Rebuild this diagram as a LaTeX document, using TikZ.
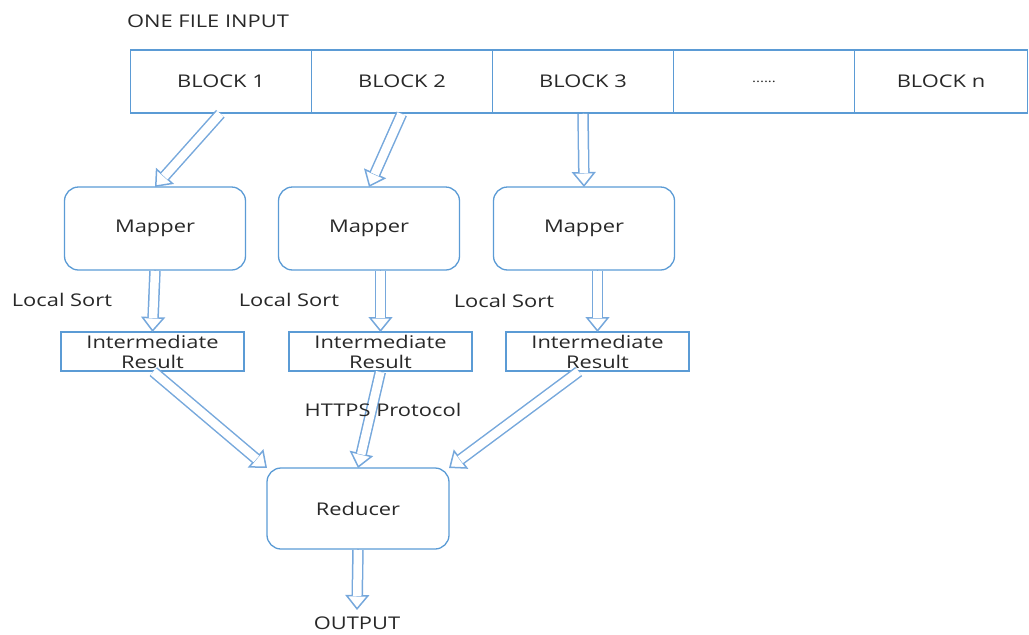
\documentclass[tikz,border=0pt]{standalone}
\usepackage{fontspec}
\setmainfont{Open Sans}[FakeStretch=1.25]
\usetikzlibrary{positioning}
\usetikzlibrary{arrows.meta}
\definecolor{boxblue}{RGB}{91,155,213}
\definecolor{arrowblue}{RGB}{118,168,220}
\definecolor{txtgray}{RGB}{40,40,40}
\newcommand{\flowArrow}[2]{%
  \draw[arrowhead] #1 -- #2;
  \draw[arrowshaft] #1 -- #2;}

\begin{document}
\begin{tikzpicture}[x=1pt,y=-1pt,text=txtgray,
  font=\fontsize{17.5}{20}\selectfont,
  block/.style={draw=boxblue,line width=1.3pt,minimum width=181pt,minimum height=63pt,inner sep=0pt,outer sep=0pt},
  proc/.style={draw=boxblue,line width=1.3pt,rounded corners=14pt,minimum width=181pt,minimum height=83pt,outer sep=0pt},
  result/.style={draw=boxblue,line width=1.3pt,minimum width=183pt,minimum height=39pt,inner sep=0pt,outer sep=0pt,align=center},
  arrowhead/.style={draw=arrowblue,line width=1.5pt,-{Triangle[open,length=15pt,width=24pt]}},
  arrowshaft/.style={draw=arrowblue,line width=1.5pt,double=white,double distance=8.5pt,shorten >=14pt,shorten <=1pt}]
  \useasboundingbox (0,0) rectangle (1029,635);

  \node (title) at (208,21) {ONE FILE INPUT};
  \node[block] (blk1) at (221,81.5) {BLOCK 1};
  \node[block] (blk2) [right=0pt of blk1] {BLOCK 2};
  \node[block] (blk3) [right=0pt of blk2] {BLOCK 3};
  \node[block,font=\fontsize{12}{14}\selectfont] (blk4) [right=0pt of blk3] {......};
  \node[block,minimum width=173pt] (blkn) [right=0pt of blk4] {BLOCK n};

  \node[proc] (map1) at (155,228.5) {Mapper};
  \node[proc] (map2) at (369,228.5) {Mapper};
  \node[proc] (map3) at (584,228.5) {Mapper};

  \node[result] (inter1) at (152.5,351.5) {Intermediate\\Result};
  \node[result] (inter2) at (380.5,351.5) {Intermediate\\Result};
  \node[result] (inter3) at (597.5,351.5) {Intermediate\\Result};

  \node[proc,minimum width=182pt,minimum height=81pt] (red) at (358,508.5) {Reducer};
  \node[anchor=north,inner sep=7pt] (out) at (357,610) {OUTPUT};

  % block -> mapper
  \flowArrow{(blk1.south)}{(map1.north)}
  \flowArrow{(blk2.south)}{(map2.north)}
  \flowArrow{(blk3.south)}{(map3.north)}
  % mapper -> intermediate result
  \flowArrow{(map1.south)}{(inter1.north)}
  \flowArrow{(inter2.north |- map2.south)}{(inter2.north)}
  \flowArrow{(inter3.north |- map3.south)}{(inter3.north)}
  % intermediate result -> reducer
  \flowArrow{(inter1.south)}{(red.north west)}
  \flowArrow{(inter2.south)}{(red.north)}
  \flowArrow{([xshift=-18pt]inter3.south)}{(red.north east)}
  \flowArrow{(red.south)}{(out.north)}

  \node (sort1) at (62,300) {Local Sort};
  \node (sort2) at (289,300) {Local Sort};
  \node (sort3) at (504,301) {Local Sort};
  \node (https) at (383,410) {HTTPS Protocol};
\end{tikzpicture}
\end{document}
